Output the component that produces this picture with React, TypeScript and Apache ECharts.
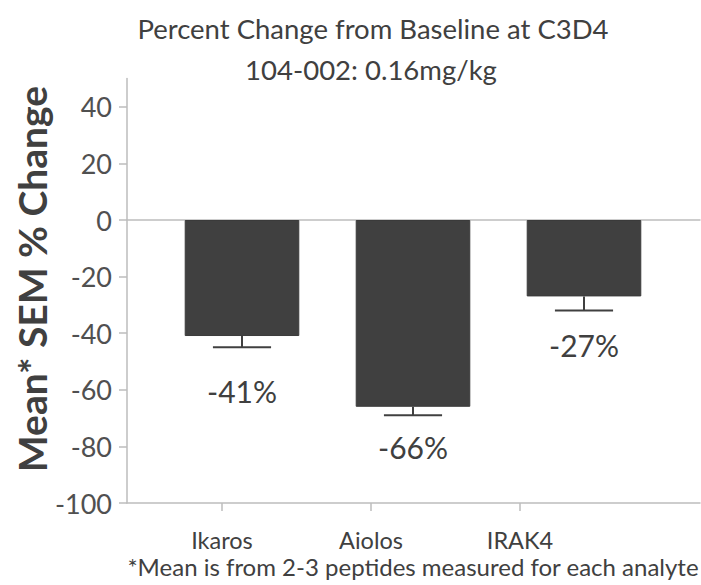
import React, { useEffect, useRef } from "react";
import * as echarts from "echarts";

const categories = ["Ikaros", "Aiolos", "IRAK4"];
const meanChange = [-41, -66, -27];
const errorLow = [-45, -69, -32];
const valueLabels = ["-41%", "-66%", "-27%"];
const yTicks = [-100, -80, -60, -40, -20, 0, 20, 40];
const titleLines = ["Percent Change from Baseline at C3D4", "104-002: 0.16mg/kg"];
const yAxisTitle = "Mean* SEM % Change";
const footnote = "*Mean is from 2-3 peptides measured for each analyte";

const FONT = "Lato, 'Noto Sans', sans-serif";
const TEXT = "#404040";
const AXIS = "#bdbdbd";
const BAR = "#404040";
const labelGap = [44, 32, 34];

export default function App() {
  const ref = useRef<HTMLDivElement>(null);
  useEffect(() => {
    if (!ref.current) return;
    const chart = echarts.init(ref.current, null, { renderer: "svg" });
    const top = 78.5;
    const bottom = 82;
    const yRange = { min: -100, max: 50 };
    const hiddenY = (gridIndex: number) => ({
      type: "value",
      gridIndex,
      ...yRange,
      show: false,
    });
    const option: any = {
      animation: false,
      backgroundColor: "#ffffff",
      graphic: [
        {
          type: "text",
          x: 373,
          y: 28,
          style: {
            text: titleLines[0],
            font: `27.5px ${FONT}`,
            fill: TEXT,
            align: "center",
            verticalAlign: "middle",
          },
        },
        {
          type: "text",
          x: 371,
          y: 69,
          style: {
            text: titleLines[1],
            font: `27.5px ${FONT}`,
            fill: TEXT,
            align: "center",
            verticalAlign: "middle",
          },
        },
        {
          type: "text",
          x: 32,
          y: 279,
          rotation: Math.PI / 2,
          style: {
            text: yAxisTitle,
            font: `bold 39px ${FONT}`,
            fill: TEXT,
            align: "center",
            verticalAlign: "middle",
          },
        },
        {
          type: "text",
          x: 413,
          y: 566,
          style: {
            text: footnote,
            font: `24px ${FONT}`,
            fill: TEXT,
            align: "center",
            verticalAlign: "middle",
          },
        },
      ],
      grid: [
        { left: 127, right: 1, top, bottom },
        { left: 147.5, right: 106.5, top, bottom },
        { left: 156.5, right: 31.5, top, bottom },
      ],
      xAxis: [
        {
          type: "category",
          gridIndex: 0,
          data: categories,
          position: "bottom",
          axisLine: { onZero: false, lineStyle: { color: AXIS, width: 1.5 } },
          axisTick: { show: false },
          axisLabel: { show: false },
        },
        {
          type: "category",
          gridIndex: 0,
          data: categories,
          position: "top",
          axisLine: { onZero: true, lineStyle: { color: AXIS, width: 1.5 } },
          axisTick: { show: false },
          axisLabel: { show: false },
        },
        {
          type: "category",
          gridIndex: 1,
          data: categories,
          position: "bottom",
          axisLine: { show: false, onZero: false },
          axisTick: {
            show: true,
            alignWithLabel: true,
            length: 8,
            lineStyle: { color: AXIS, width: 1.5 },
          },
          axisLabel: {
            fontFamily: FONT,
            fontSize: 23.5,
            color: TEXT,
            margin: 25,
          },
        },
        {
          type: "category",
          gridIndex: 2,
          data: categories,
          show: false,
        },
      ],
      yAxis: [
        {
          type: "value",
          gridIndex: 0,
          ...yRange,
          axisLine: { show: true, lineStyle: { color: AXIS, width: 1.5 } },
          axisTick: {
            show: true,
            length: 8,
            customValues: yTicks,
            lineStyle: { color: AXIS, width: 1.5 },
          },
          axisLabel: {
            customValues: yTicks,
            fontFamily: FONT,
            fontSize: 27,
            color: "#505050",
            margin: 15,
          },
          splitLine: { show: false },
        },
        hiddenY(1),
        hiddenY(2),
      ],
      series: [
        {
          type: "bar",
          xAxisIndex: 3,
          yAxisIndex: 2,
          data: meanChange,
          barWidth: "67%",
          itemStyle: { color: BAR, borderColor: "#3a3a3a", borderWidth: 1 },
        },
        {
          type: "custom",
          xAxisIndex: 3,
          yAxisIndex: 2,
          data: categories.map((_, i) => [i, meanChange[i], errorLow[i]]),
          renderItem: (params: any, api: any) => {
            const i = api.value(0);
            const end = api.coord([i, api.value(1)]);
            const low = api.coord([i, api.value(2)]);
            const half = api.size([1, 0])[0] * 0.17;
            const ls = { stroke: "#404040", lineWidth: 2 };
            return {
              type: "group",
              children: [
                {
                  type: "line",
                  shape: { x1: end[0], y1: end[1], x2: low[0], y2: low[1] },
                  style: ls,
                },
                {
                  type: "line",
                  shape: { x1: low[0] - half, y1: low[1], x2: low[0] + half, y2: low[1] },
                  style: ls,
                },
                {
                  type: "text",
                  x: low[0],
                  y: low[1] + labelGap[params.dataIndex],
                  style: {
                    text: valueLabels[params.dataIndex],
                    font: `30px ${FONT}`,
                    fill: TEXT,
                    align: "center",
                    verticalAlign: "middle",
                  },
                },
              ],
            };
          },
        },
      ],
    };
    chart.setOption(option);
    return () => chart.dispose();
  }, []);
  return <div ref={ref} style={{ width: 701, height: 585, position: "absolute", left: 0, top: 0 }} />;
}
